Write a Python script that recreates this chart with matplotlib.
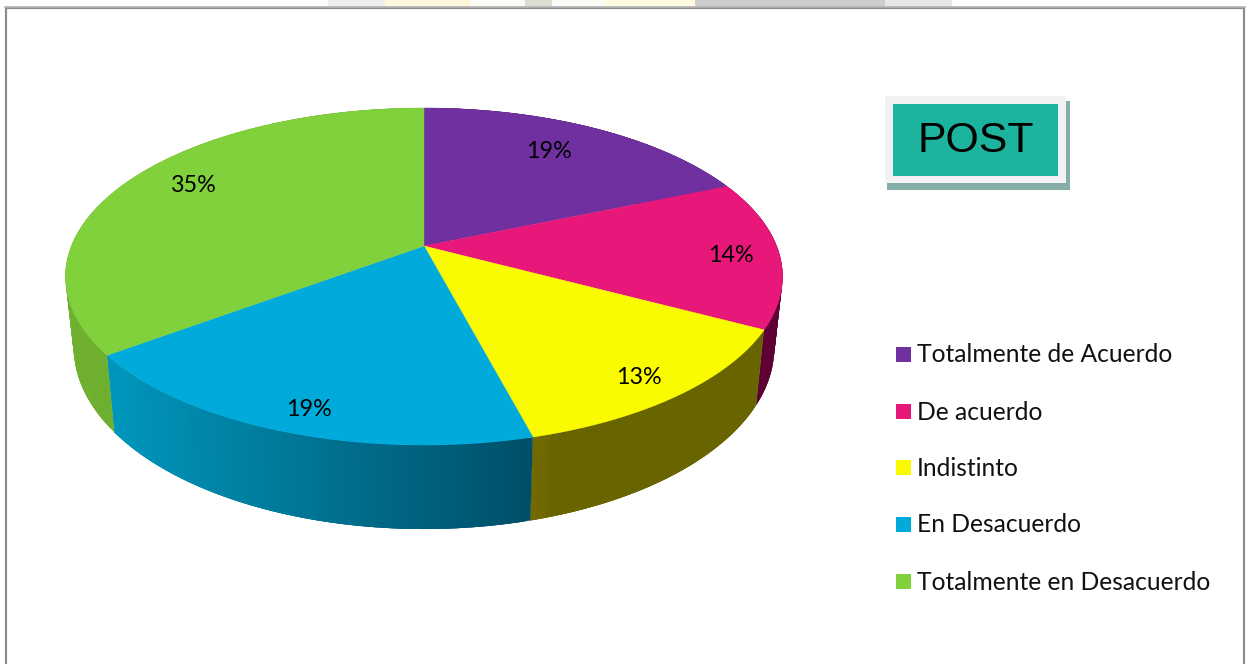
import numpy as np
import matplotlib
matplotlib.use("Agg")
import matplotlib.pyplot as plt
from matplotlib.patches import Rectangle, Polygon
from matplotlib.collections import PolyCollection
from matplotlib.colors import to_rgb

# ---- data
categories = ["Totalmente de Acuerdo", "De acuerdo", "Indistinto", "En Desacuerdo", "Totalmente en Desacuerdo"]
values = [18.6, 14.2, 13.1, 18.9, 35.2]
labels = ["19%", "14%", "13%", "19%", "35%"]
title_box = "POST"

# ---- styles
top_colors = ["#7030A0", "#E8177A", "#FAFA00", "#00ABDB", "#80D13C"]
wall_left = ["#4A2069", "#5E0033", "#756A00", "#0097BD", "#6FB030"]
wall_right = ["#4A2069", "#5E0033", "#686400", "#004F68", "#6AA82E"]
label_xy = [(549, 151), (731, 255), (639, 377), (309, 409), (194, 185)]
legend_y = [355, 412, 468, 525, 582]
FONT = "Lato"

W, H = 1251, 664
CX, CY = 424, 246
A, B, K = 163.0, 352.6, -0.181
SX, SY, DY = 0.977, 1.077, 68.7

fig = plt.figure(figsize=(W / 100, H / 100), dpi=100)
ax = fig.add_axes([0, 0, 1, 1])
ax.set_xlim(0, W)
ax.set_ylim(H, 0)
ax.axis("off")


def project(theta):
    u, v = np.sin(theta), -np.cos(theta)
    d = 1 + K * v
    return CX + B * u / d, CY + A * v / d


def lower(x, y):
    return CX + (x - CX) * SX, CY + (y - CY) * SY + DY


# background strip above the frame
for x0, x1, c in [(328, 385, "#EEEEEE"), (385, 470, "#FDF7DC"), (470, 525, "#FAFAF6"),
                  (525, 552, "#DADDCF"), (552, 605, "#FBFBF8"), (605, 695, "#FEFBDF"),
                  (695, 885, "#CDCDCD"), (885, 952, "#E6E6E6")]:
    ax.add_patch(Rectangle((x0, 0), x1 - x0, 8, fc=c, ec="none", zorder=1))

# frame
ax.add_patch(Rectangle((5.5, 8), 1238, 660, fc="white", ec="#8C8C8C", lw=1.6, zorder=2))
ax.plot([5, 1245], [7, 7], color="#B5B5B5", lw=1.2, zorder=2)

# slices
edges = np.radians(np.concatenate([[0], np.cumsum(values)]) * 360 / sum(values))

# walls: overlapping strips so no seams appear between them
for i in range(len(values)):
    t = np.linspace(edges[i], edges[i + 1], 120)
    x, y = project(t)
    xb, yb = lower(x, y)
    lo, hi = x.min(), x.max()
    f = np.clip((x - lo) / max(hi - lo, 1), 0, 1)
    c0, c1 = np.array(to_rgb(wall_left[i])), np.array(to_rgb(wall_right[i]))
    quads, cols = [], []
    for j in range(len(t) - 1):
        k = min(j + 3, len(t) - 1)
        quads.append([(x[j], y[j]), (x[k], y[k]), (xb[k], yb[k]), (xb[j], yb[j])])
        mix = f[j] if i >= 3 else min(f[j] * 8, 1)
        cols.append(c0 + (c1 - c0) * mix)
    ax.add_collection(PolyCollection(quads, facecolors=cols, edgecolors="none", zorder=3))

# top faces
for i in range(len(values)):
    t = np.linspace(edges[i], edges[i + 1], 200)
    x, y = project(t)
    ax.add_patch(Polygon(np.column_stack([np.r_[CX, x], np.r_[CY, y]]), closed=True,
                         fc=top_colors[i], ec=top_colors[i], lw=0.3, zorder=4))

# slice labels
for s, (lx, ly) in zip(labels, label_xy):
    ax.text(lx, ly, s, ha="center", va="center", fontsize=16.8, family=FONT, color="black", zorder=6)

# POST box
ax.add_patch(Rectangle((887, 101), 183, 89, fc="#84AEA7", ec="none", zorder=3))
ax.add_patch(Rectangle((885, 96), 181, 87, fc="#F2F1F3", ec="none", zorder=4))
ax.add_patch(Rectangle((893, 104), 165, 72, fc="#1CB49F", ec="none", zorder=5))
ax.text(975.5, 141.5, title_box, ha="center", va="center", fontsize=30.8, family="Liberation Sans", color="black", zorder=6)

# legend
for c, s, ly in zip(top_colors, categories, legend_y):
    ax.add_patch(Rectangle((896, ly - 8), 15, 15, fc=c, ec="none", zorder=5))
    ax.text(917, ly, s, ha="left", va="center", fontsize=17.75, family=FONT, color="#111111", zorder=6)

fig.savefig("out.png", dpi=100)
